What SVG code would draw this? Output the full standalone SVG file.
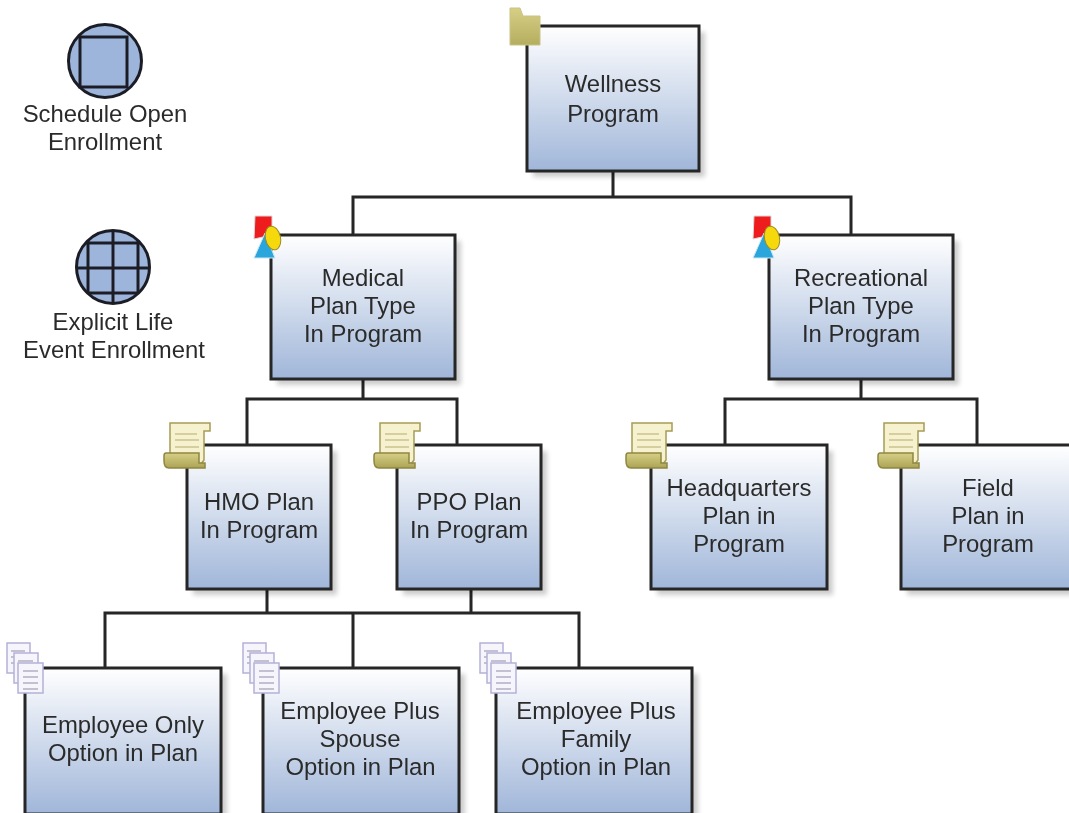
<svg xmlns="http://www.w3.org/2000/svg" width="1069" height="813" viewBox="0 0 1069 813">
<style>
text{font-family:"Liberation Sans",Arial,sans-serif;font-size:23.9px;fill:#2c2c2c;text-anchor:middle}
.box{fill:url(#boxFill);stroke:#262626;stroke-width:3}
.shadow{fill:#000;opacity:.2;filter:url(#blur)}
.conn{fill:none;stroke:#262626;stroke-width:3}
.ev{fill:#9db5da;stroke:#1c1f26;stroke-width:3}
.evl{fill:none;stroke:#1c1f26;stroke-width:3}
.pg{fill:#f6f5fb;stroke:#b3b1d8;stroke-width:1.5}
.ln{fill:none;stroke:#8d8ca8;stroke-width:1.2}
</style>
<defs>
<linearGradient id="boxFill" x1="0" y1="0" x2="0" y2="1"><stop offset="0" stop-color="#ffffff"/><stop offset="1" stop-color="#a0b6d9"/></linearGradient>
<linearGradient id="folderFill" x1="0" y1="0" x2="0" y2="1"><stop offset="0" stop-color="#d6cf86"/><stop offset="1" stop-color="#b5ad5e"/></linearGradient>
<linearGradient id="rollFill" x1="0" y1="0" x2="0" y2="1"><stop offset="0" stop-color="#d6cf86"/><stop offset="1" stop-color="#aca354"/></linearGradient>
<filter id="blur" x="-10%" y="-10%" width="120%" height="120%"><feGaussianBlur stdDeviation="2.5"/></filter>
<filter id="soft" filterUnits="userSpaceOnUse" x="0" y="0" width="1069" height="813"><feGaussianBlur stdDeviation="0.55"/></filter>
<clipPath id="gridClip"><circle cx="113" cy="267" r="36"/></clipPath>
<g id="scroll">
<path d="M6 1H46V9H40V38L37 42H6Z" fill="#f6f1cf" stroke="#a69c55" stroke-width="1.5"/>
<path d="M11 12H33M11 18H35M11 25H35" fill="none" stroke="#b5ab70" stroke-width="1.2"/>
<path d="M2 31H35V41H41V46H5C1 46 0 43 0 39V34C0 32 1 31 2 31Z" fill="url(#rollFill)" stroke="#8f8642" stroke-width="1.5"/>
</g>
<g id="docs">
<rect x="0" y="0" width="23" height="30" class="pg"/><path d="M4 8H18M4 14H18M4 20H18" class="ln"/>
<rect x="7" y="10" width="24" height="30" class="pg"/><path d="M11 18H26M11 24H26M11 30H26" class="ln"/>
<rect x="11" y="20" width="25" height="30" class="pg"/><path d="M16 28H31M16 34H31M16 40H31M16 46H31" class="ln"/>
</g>
<g id="shapes">
<path d="M1 0H18V19L0 23Z" fill="#ee1c1c" stroke="#d9d9d9" stroke-width="1"/>
<path d="M11 17L21 42H0Z" fill="#2aa6dc" stroke="#cfe6f2" stroke-width="1"/>
<ellipse cx="19" cy="22" rx="7.5" ry="12" fill="#f5d90a" stroke="#9a8a2a" stroke-width="1" transform="rotate(-12 19 22)"/>
</g>
</defs>
<g filter="url(#soft)">
<g id="connectors">
<path class="conn" d="M613 171V197M353 235V197H851V235"/>
<path class="conn" d="M363 379V399M247 445V399H457V445"/>
<path class="conn" d="M861 379V399M725 445V399H977V445"/>
<path class="conn" d="M267 589V613M471 589V613M105 668V613H579V668M353 613V668"/>
</g>

<g id="schedule-open-enrollment">
<circle class="ev" cx="105" cy="61" r="36.5"/>
<rect class="evl" x="80" y="37" width="47" height="50"/>
<text x="105" y="122">Schedule Open</text><text x="105" y="150">Enrollment</text>
</g>
<g id="explicit-life-event-enrollment">
<circle class="ev" cx="113" cy="267" r="36.5"/>
<path class="evl" clip-path="url(#gridClip)" d="M88 230V304M113 230V304M138 230V304M76 243H150M76 268H150M76 293H150"/>
<text x="113" y="330">Explicit Life</text><text x="114" y="358">Event Enrollment</text>
</g>

<g id="wellness-program">
<rect class="shadow" x="533" y="32" width="172" height="145"/>
<rect class="box" x="527" y="26" width="172" height="145"/>
<path d="M510 8H520L523 16H540V45H510Z" fill="url(#folderFill)" stroke="#c9c384" stroke-width="1"/>
<text x="613" y="92">Wellness</text><text x="613" y="122">Program</text>
</g>
<g id="medical-plan-type">
<rect class="shadow" x="277" y="241" width="184" height="144"/>
<rect class="box" x="271" y="235" width="184" height="144"/>
<use href="#shapes" x="254" y="216"/>
<text x="363" y="286">Medical</text><text x="363" y="314">Plan Type</text><text x="363" y="342">In Program</text>
</g>
<g id="recreational-plan-type">
<rect class="shadow" x="775" y="241" width="184" height="144"/>
<rect class="box" x="769" y="235" width="184" height="144"/>
<use href="#shapes" x="753" y="216"/>
<text x="861" y="286">Recreational</text><text x="861" y="314">Plan Type</text><text x="861" y="342">In Program</text>
</g>
<g id="hmo-plan">
<rect class="shadow" x="193" y="451" width="144" height="144"/>
<rect class="box" x="187" y="445" width="144" height="144"/>
<use href="#scroll" x="164" y="422"/>
<text x="259" y="510">HMO Plan</text><text x="259" y="538">In Program</text>
</g>
<g id="ppo-plan">
<rect class="shadow" x="403" y="451" width="144" height="144"/>
<rect class="box" x="397" y="445" width="144" height="144"/>
<use href="#scroll" x="374" y="422"/>
<text x="469" y="510">PPO Plan</text><text x="469" y="538">In Program</text>
</g>
<g id="headquarters-plan">
<rect class="shadow" x="657" y="451" width="176" height="144"/>
<rect class="box" x="651" y="445" width="176" height="144"/>
<use href="#scroll" x="626" y="422"/>
<text x="739" y="496">Headquarters</text><text x="739" y="524">Plan in</text><text x="739" y="552">Program</text>
</g>
<g id="field-plan">
<rect class="shadow" x="907" y="451" width="176" height="144"/>
<rect class="box" x="901" y="445" width="176" height="144"/>
<use href="#scroll" x="878" y="422"/>
<text x="988" y="496">Field</text><text x="988" y="524">Plan in</text><text x="988" y="552">Program</text>
</g>
<g id="employee-only-option">
<rect class="shadow" x="31" y="674" width="196" height="144"/>
<rect class="box" x="25" y="668" width="196" height="146"/>
<use href="#docs" x="7" y="643"/>
<text x="123" y="733">Employee Only</text><text x="123" y="761">Option in Plan</text>
</g>
<g id="employee-plus-spouse-option">
<rect class="shadow" x="269" y="674" width="196" height="144"/>
<rect class="box" x="263" y="668" width="196" height="146"/>
<use href="#docs" x="243" y="643"/>
<text x="360" y="719">Employee Plus</text><text x="360" y="747">Spouse</text><text x="360.500" y="775">Option in Plan</text>
</g>
<g id="employee-plus-family-option">
<rect class="shadow" x="502" y="674" width="196" height="144"/>
<rect class="box" x="496" y="668" width="196" height="146"/>
<use href="#docs" x="480" y="643"/>
<text x="596" y="719">Employee Plus</text><text x="596" y="747">Family</text><text x="596" y="775">Option in Plan</text>
</g>
</g>
</svg>
